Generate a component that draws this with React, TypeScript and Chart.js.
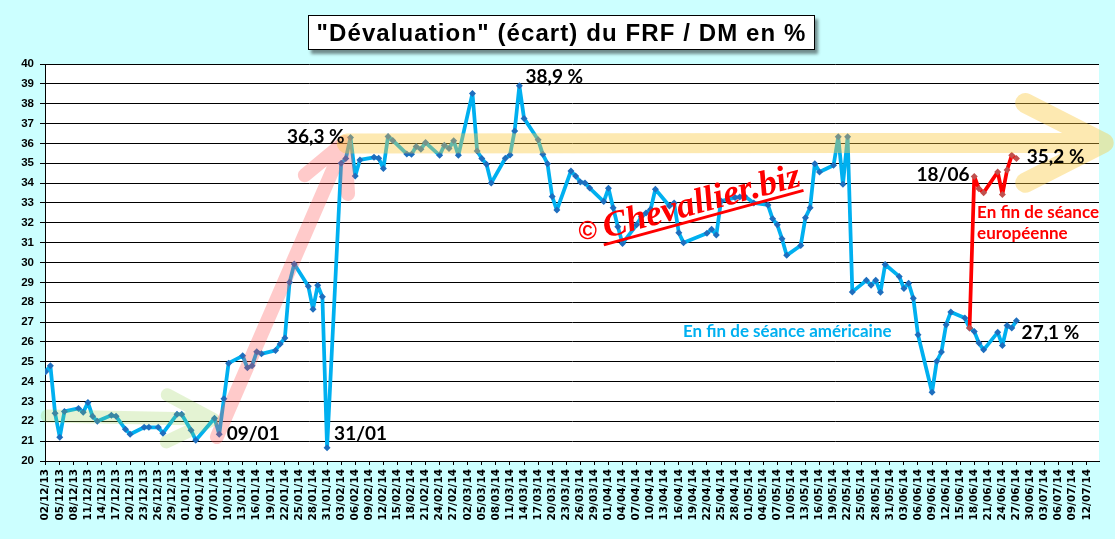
import { useEffect, useRef } from 'react'
import { Chart, registerables } from 'chart.js'

Chart.register(...registerables)

// "dévaluation" du FRF / DM, fin de séance américaine
const usDates = [
  '02/12/13', '03/12/13', '04/12/13', '05/12/13', '06/12/13', '09/12/13', '10/12/13', '11/12/13', '12/12/13', '13/12/13',
  '16/12/13', '17/12/13', '19/12/13', '20/12/13', '23/12/13', '24/12/13', '26/12/13', '27/12/13', '30/12/13', '31/12/13',
  '02/01/14', '03/01/14', '07/01/14', '08/01/14', '09/01/14', '10/01/14', '13/01/14', '14/01/14', '15/01/14', '16/01/14',
  '17/01/14', '20/01/14', '21/01/14', '22/01/14', '23/01/14', '24/01/14', '27/01/14', '28/01/14', '29/01/14', '30/01/14',
  '31/01/14',
  '03/02/14', '04/02/14', '05/02/14', '06/02/14', '07/02/14', '10/02/14', '11/02/14', '12/02/14', '13/02/14', '14/02/14',
  '17/02/14', '18/02/14', '19/02/14', '20/02/14', '21/02/14', '24/02/14', '25/02/14', '26/02/14', '27/02/14', '28/02/14',
  '03/03/14', '04/03/14', '05/03/14', '06/03/14', '07/03/14', '10/03/14', '11/03/14', '12/03/14', '13/03/14', '14/03/14',
  '17/03/14', '18/03/14', '19/03/14', '20/03/14', '21/03/14', '24/03/14', '25/03/14', '26/03/14', '27/03/14', '28/03/14',
  '31/03/14',
  '01/04/14', '02/04/14', '03/04/14', '04/04/14', '07/04/14', '08/04/14', '09/04/14', '10/04/14', '11/04/14',
  '14/04/14', '15/04/14', '16/04/14', '17/04/14', '22/04/14', '23/04/14', '24/04/14', '25/04/14', '28/04/14', '29/04/14',
  '30/04/14',
  '02/05/14', '05/05/14', '06/05/14', '07/05/14', '08/05/14', '09/05/14', '12/05/14', '13/05/14', '14/05/14', '15/05/14',
  '16/05/14', '19/05/14', '20/05/14', '21/05/14', '22/05/14', '23/05/14', '26/05/14', '27/05/14', '28/05/14', '29/05/14',
  '30/05/14',
  '02/06/14', '03/06/14', '04/06/14', '05/06/14', '06/06/14', '09/06/14', '10/06/14', '11/06/14', '12/06/14', '13/06/14',
  '16/06/14', '17/06/14', '18/06/14', '19/06/14', '20/06/14', '23/06/14', '24/06/14', '25/06/14', '26/06/14', '27/06/14',
]
const usValues = [
  24.5, 24.8, 22.4, 21.2, 22.5, 22.65, 22.45, 22.95, 22.25, 22.0,
  22.3, 22.25, 21.6, 21.35, 21.7, 21.7, 21.7, 21.4, 22.35, 22.35,
  21.55, 21.05, 22.15, 21.35, 23.13, 24.93, 25.3, 24.7, 24.8, 25.5,
  25.4, 25.57, 25.9, 26.2, 29.0, 29.93, 28.8, 27.65, 28.85, 28.27,
  20.67,
  35.0, 35.24, 36.3, 34.36, 35.17, 35.3, 35.25, 34.74, 36.35, 36.15,
  35.47, 35.45, 35.84, 35.71, 36.04, 35.4, 35.91, 35.74, 36.13, 35.4,
  38.52, 35.62, 35.24, 34.95, 34.0, 35.25, 35.42, 36.63, 38.9, 37.26,
  36.18, 35.45, 34.98, 33.32, 32.64, 34.61, 34.36, 34.06, 34.0, 33.75,
  33.07,
  33.74, 32.76, 31.8, 30.96, 31.9, 32.3, 32.5, 32.68, 33.69,
  32.85, 33.0, 31.5, 31.0, 31.47, 31.67, 31.38, 33.1, 33.27, 33.3,
  33.35,
  33.0, 32.9, 32.2, 31.9, 31.2, 30.36, 30.86, 32.26, 32.76, 34.98,
  34.56, 34.9, 36.33, 33.94, 36.33, 28.52, 29.1, 28.85, 29.1, 28.5,
  29.9,
  29.3, 28.69, 28.96, 28.2, 26.36, 23.46, 25.02, 25.49, 26.87, 27.51,
  27.2, 26.7, 26.53, 25.94, 25.6, 26.48, 25.82, 26.82, 26.7, 27.07,
]

// fin de séance européenne
const euDates = ['17/06/14', '18/06/14', '19/06/14', '20/06/14', '23/06/14', '24/06/14', '25/06/14', '26/06/14', '27/06/14']
const euValues = [26.7, 34.33, 33.72, 33.52, 34.56, 33.43, 34.66, 35.4, 35.24]

const xTickLabels = [
  '02/12/13', '05/12/13', '08/12/13', '11/12/13', '14/12/13', '17/12/13', '20/12/13', '23/12/13', '26/12/13', '29/12/13',
  '01/01/14', '04/01/14', '07/01/14', '10/01/14', '13/01/14', '16/01/14', '19/01/14', '22/01/14', '25/01/14', '28/01/14', '31/01/14',
  '03/02/14', '06/02/14', '09/02/14', '12/02/14', '15/02/14', '18/02/14', '21/02/14', '24/02/14', '27/02/14',
  '02/03/14', '05/03/14', '08/03/14', '11/03/14', '14/03/14', '17/03/14', '20/03/14', '23/03/14', '26/03/14', '29/03/14',
  '01/04/14', '04/04/14', '07/04/14', '10/04/14', '13/04/14', '16/04/14', '19/04/14', '22/04/14', '25/04/14', '28/04/14',
  '01/05/14', '04/05/14', '07/05/14', '10/05/14', '13/05/14', '16/05/14', '19/05/14', '22/05/14', '25/05/14', '28/05/14', '31/05/14',
  '03/06/14', '06/06/14', '09/06/14', '12/06/14', '15/06/14', '18/06/14', '21/06/14', '24/06/14', '27/06/14', '30/06/14',
  '03/07/14', '06/07/14', '09/07/14', '12/07/14',
]

const BASE = Date.UTC(2013, 11, 2)
const dayOf = (s: string) => {
  const [d, m, y] = s.split('/').map(Number)
  return (Date.UTC(2000 + y, m - 1, d) - BASE) / 86400000
}

const BLUE = '#00B0F0'
const RED = '#FF0000'

// block arrows drawn over the lines, ends given in (day, value)
const arrows = [
  { from: [0.3, 22.27], to: [35.7, 22.1], color: 'rgba(146, 208, 80, 0.25)', width: 13, head: 52 },
  { from: [36.5, 21.21], to: [63.8, 36.07], color: 'rgba(255, 80, 80, 0.3)', width: 14, head: 52 },
  { from: [64.2, 36.0], to: [225.6, 36.03], color: 'rgba(250, 200, 60, 0.4)', width: 20, head: 88 },
]

const notes = [
  { text: '36,3 %', at: [51.45, 36.32], color: '#000', font: 'bold 19px Lato' },
  { text: '38,9 %', at: [102.3, 39.36], color: '#000', font: 'bold 19px Lato' },
  { text: '09/01', at: [38.6, 21.38], color: '#000', font: 'bold 19px Lato' },
  { text: '31/01', at: [61.5, 21.38], color: '#000', font: 'bold 19px Lato' },
  { text: '18/06', at: [185.7, 34.41], color: '#000', font: 'bold 19px Lato' },
  { text: '35,2 %', at: [209.2, 35.31], color: '#000', font: 'bold 19px Lato' },
  { text: '27,1 %', at: [208.1, 26.45], color: '#000', font: 'bold 19px Lato' },
  { text: 'En fin de séance', at: [198.6, 32.54], color: RED, font: 'bold 17px Lato' },
  { text: 'européenne', at: [198.6, 31.44], color: RED, font: 'bold 17px Lato' },
  { text: 'En fin de séance américaine', at: [135.9, 26.5], color: BLUE, font: 'bold 17px Lato' },
]

const overlay = {
  id: 'overlay',
  beforeDraw(chart: any) {
    const { ctx, chartArea: a } = chart
    ctx.save()
    ctx.fillStyle = '#fff'
    ctx.fillRect(a.left, a.top, a.right - a.left, a.bottom - a.top)
    ctx.restore()
  },
  afterDatasetsDraw(chart: any) {
    const { ctx } = chart
    const { x, y } = chart.scales
    const px = (p: number[]) => [x.getPixelForValue(p[0]), y.getPixelForValue(p[1])]

    for (const ar of arrows) {
      const [x0, y0] = px(ar.from)
      const [x1, y1] = px(ar.to)
      const ang = Math.atan2(y1 - y0, x1 - x0)
      const spread = 0.47
      ctx.save()
      ctx.strokeStyle = ar.color
      ctx.lineWidth = ar.width
      ctx.lineCap = 'round'
      ctx.lineJoin = 'round'
      ctx.beginPath()
      ctx.moveTo(x0, y0)
      ctx.lineTo(x1, y1)
      ctx.moveTo(x1 - ar.head * Math.cos(ang - spread), y1 - ar.head * Math.sin(ang - spread))
      ctx.lineTo(x1, y1)
      ctx.lineTo(x1 - ar.head * Math.cos(ang + spread), y1 - ar.head * Math.sin(ang + spread))
      ctx.stroke()
      ctx.restore()
    }

    ctx.save()
    ctx.textBaseline = 'middle'
    ctx.textAlign = 'left'
    for (const n of notes) {
      const [tx, ty] = px(n.at)
      ctx.font = n.font
      ctx.fillStyle = n.color
      ctx.fillText(n.text, tx, ty)
    }

    // watermark
    const [cx, cy] = px([115.6, 31.53])
    ctx.font = 'bold 25px "Liberation Sans"'
    ctx.fillStyle = RED
    ctx.textAlign = 'center'
    ctx.fillText('©', cx, cy)
    const [wx, wy] = px([119.5, 31.23])
    ctx.translate(wx, wy)
    ctx.rotate((-15 * Math.PI) / 180)
    ctx.textAlign = 'left'
    ctx.textBaseline = 'alphabetic'
    ctx.font = 'italic bold 36px "Liberation Serif"'
    ctx.fillText('Chevallier.biz', 0, 0)
    const w = ctx.measureText('Chevallier.biz').width
    ctx.strokeStyle = RED
    ctx.lineWidth = 3
    ctx.beginPath()
    ctx.moveTo(-4, 6)
    ctx.lineTo(w, 5)
    ctx.stroke()
    ctx.restore()
  },
}

export default function App() {
  const canvasRef = useRef<HTMLCanvasElement>(null)

  useEffect(() => {
    if (!canvasRef.current) return

    const chart = new Chart(canvasRef.current, {
      type: 'line',
      data: {
        datasets: [
          {
            label: 'En fin de séance européenne',
            data: euDates.map((d, i) => ({ x: dayOf(d), y: euValues[i] })),
            borderColor: RED,
            borderWidth: 3.75,
            borderJoinStyle: 'round',
            pointStyle: 'rectRot',
            pointRadius: 3.5,
            pointBackgroundColor: '#C0504D',
            pointBorderWidth: 0,
            tension: 0,
          },
          {
            label: 'En fin de séance américaine',
            data: usDates.map((d, i) => ({ x: dayOf(d), y: usValues[i] })),
            borderColor: BLUE,
            borderWidth: 3.75,
            borderJoinStyle: 'round',
            pointStyle: 'rectRot',
            pointRadius: 3.5,
            pointBackgroundColor: '#1E6EBE',
            pointBorderWidth: 0,
            tension: 0,
          },
        ],
      },
      options: {
        responsive: false,
        animation: false,
        layout: { padding: { top: 64, right: 16, left: 0, bottom: 0 } },
        plugins: {
          legend: { display: false },
          tooltip: { enabled: false },
        },
        scales: {
          x: {
            type: 'linear',
            min: -0.15,
            max: 224.6,
            afterBuildTicks: (s: any) => {
              s.ticks = xTickLabels.map(l => ({ value: dayOf(l) }))
            },
            afterFit: (s: any) => {
              s.height = 78
            },
            ticks: {
              autoSkip: false,
              minRotation: 90,
              maxRotation: 90,
              padding: 4,
              color: '#000',
              font: { family: 'DejaVu Sans', weight: 'bold', size: 10.5 },
              callback: (_v: any, i: number) => xTickLabels[i],
            },
            grid: { drawOnChartArea: false, tickLength: 4, color: '#000' },
            border: { color: '#000', width: 1 },
          },
          y: {
            min: 20,
            max: 40,
            afterFit: (s: any) => {
              s.width = 45
            },
            ticks: {
              stepSize: 1,
              padding: 6,
              color: '#000',
              font: { family: 'Liberation Sans', weight: 'bold', size: 11.5 },
            },
            grid: { color: '#000', tickLength: 5 },
            border: { color: '#000', width: 1 },
          },
        },
      },
      plugins: [overlay],
    })

    return () => chart.destroy()
  }, [])

  return (
    <div style={{ position: 'fixed', left: 0, top: 0, width: 1115, height: 539, background: '#CCFFFF' }}>
      <canvas ref={canvasRef} width={1115} height={539} style={{ position: 'absolute', left: 0, top: 0 }} />
      <div
        style={{
          position: 'absolute',
          left: 308,
          top: 15,
          width: 507,
          height: 35,
          boxSizing: 'border-box',
          border: '1px solid #000',
          background: '#fff',
          boxShadow: '3px 4px 3px rgba(0,0,0,0.45)',
          font: 'bold 24px "Liberation Sans"',
          letterSpacing: '1.1px',
          lineHeight: '33px',
          textAlign: 'center',
          whiteSpace: 'nowrap',
          color: '#000',
        }}
      >
        "Dévaluation" (écart) du FRF / DM en %
      </div>
    </div>
  )
}
